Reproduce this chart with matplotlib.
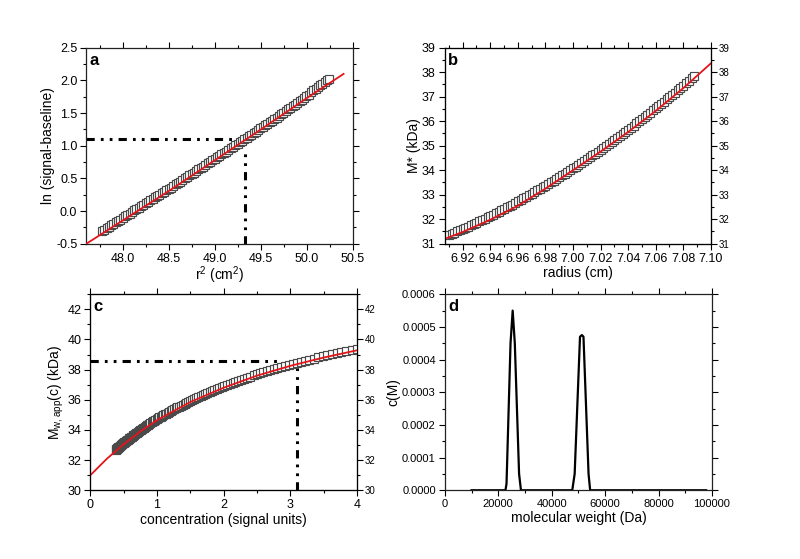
import matplotlib
matplotlib.use('Agg')
import matplotlib.pyplot as plt
from matplotlib.ticker import MultipleLocator, FormatStrFormatter

plt.rcParams['font.family'] = ['Liberation Sans', 'DejaVu Sans']
plt.rcParams['mathtext.default'] = 'regular'
plt.rcParams['axes.unicode_minus'] = False

# --- panel a: ln(signal - baseline) vs r^2
a_r2 = [47.770, 47.795, 47.820, 47.845, 47.870, 47.895, 47.920, 47.945, 47.970, 47.995,
        48.020, 48.045, 48.070, 48.095, 48.120, 48.145, 48.170, 48.195, 48.220, 48.245,
        48.270, 48.295, 48.320, 48.345, 48.370, 48.395, 48.420, 48.445, 48.470, 48.495,
        48.520, 48.545, 48.570, 48.595, 48.620, 48.645, 48.670, 48.695, 48.720, 48.745,
        48.770, 48.795, 48.820, 48.845, 48.870, 48.895, 48.920, 48.945, 48.970, 48.995,
        49.020, 49.045, 49.070, 49.095, 49.120, 49.145, 49.170, 49.195, 49.220, 49.245,
        49.270, 49.295, 49.320, 49.345, 49.370, 49.395, 49.420, 49.445, 49.470, 49.495,
        49.520, 49.545, 49.570, 49.595, 49.620, 49.645, 49.670, 49.695, 49.720, 49.745,
        49.770, 49.795, 49.820, 49.845, 49.870, 49.895, 49.920, 49.945, 49.970, 49.995,
        50.020, 50.045, 50.070, 50.095, 50.120, 50.145, 50.170, 50.195, 50.220, 50.245]
a_ln = [-0.310, -0.285, -0.260, -0.240, -0.220, -0.195, -0.170, -0.150, -0.130, -0.105,
        -0.080, -0.060, -0.040, -0.015, 0.010, 0.030, 0.050, 0.075, 0.100, 0.120,
        0.140, 0.165, 0.190, 0.210, 0.230, 0.250, 0.270, 0.295, 0.320, 0.340,
        0.360, 0.385, 0.410, 0.430, 0.450, 0.475, 0.500, 0.525, 0.550, 0.570,
        0.590, 0.615, 0.640, 0.660, 0.680, 0.705, 0.730, 0.755, 0.780, 0.800,
        0.820, 0.845, 0.870, 0.890, 0.910, 0.935, 0.960, 0.985, 1.010, 1.030,
        1.050, 1.075, 1.100, 1.125, 1.150, 1.170, 1.190, 1.215, 1.240, 1.265,
        1.290, 1.315, 1.340, 1.360, 1.380, 1.405, 1.430, 1.455, 1.480, 1.505,
        1.530, 1.555, 1.580, 1.605, 1.630, 1.655, 1.680, 1.705, 1.730, 1.755,
        1.780, 1.815, 1.850, 1.875, 1.900, 1.925, 1.950, 1.975, 2.000, 2.025]
a_fit_x = [47.6, 48.0, 48.5, 49.0, 49.5, 50.0, 50.4]
a_fit_y = [-0.50, -0.14, 0.31, 0.78, 1.25, 1.73, 2.10]
a_guide_x, a_guide_y = 49.33, 1.10

# --- panel b: M* vs radius
b_r = [6.910, 6.912, 6.914, 6.916, 6.918, 6.920, 6.922, 6.924, 6.926, 6.928,
       6.930, 6.932, 6.934, 6.936, 6.938, 6.940, 6.942, 6.944, 6.946, 6.948,
       6.950, 6.952, 6.954, 6.956, 6.958, 6.960, 6.962, 6.964, 6.966, 6.968,
       6.970, 6.972, 6.974, 6.976, 6.978, 6.980, 6.982, 6.984, 6.986, 6.988,
       6.990, 6.992, 6.994, 6.996, 6.998, 7.000, 7.002, 7.004, 7.006, 7.008,
       7.010, 7.012, 7.014, 7.016, 7.018, 7.020, 7.022, 7.024, 7.026, 7.028,
       7.030, 7.032, 7.034, 7.036, 7.038, 7.040, 7.042, 7.044, 7.046, 7.048,
       7.050, 7.052, 7.054, 7.056, 7.058, 7.060, 7.062, 7.064, 7.066, 7.068,
       7.070, 7.072, 7.074, 7.076, 7.078, 7.080, 7.082, 7.084, 7.086, 7.088]
b_m = [31.35, 31.40, 31.45, 31.50, 31.55, 31.60, 31.65, 31.70, 31.75, 31.80,
       31.86, 31.91, 31.97, 32.02, 32.08, 32.13, 32.19, 32.25, 32.31, 32.36,
       32.42, 32.48, 32.54, 32.60, 32.67, 32.73, 32.79, 32.85, 32.92, 32.98,
       33.05, 33.11, 33.18, 33.24, 33.31, 33.37, 33.44, 33.51, 33.58, 33.65,
       33.72, 33.79, 33.86, 33.93, 34.01, 34.08, 34.15, 34.22, 34.30, 34.37,
       34.45, 34.53, 34.61, 34.68, 34.76, 34.84, 34.92, 35.00, 35.08, 35.16,
       35.24, 35.32, 35.41, 35.49, 35.57, 35.65, 35.74, 35.82, 35.91, 36.00,
       36.09, 36.17, 36.26, 36.35, 36.44, 36.53, 36.62, 36.71, 36.80, 36.89,
       36.99, 37.08, 37.17, 37.26, 37.36, 37.45, 37.55, 37.65, 37.75, 37.85]
b_fit_x = [6.907, 6.92, 6.94, 6.96, 6.98, 7.00, 7.02, 7.04, 7.06, 7.08, 7.10]
b_fit_y = [31.20, 31.48, 31.98, 32.55, 33.25, 34.00, 34.76, 35.56, 36.42, 37.35, 38.36]

# --- panel c: Mw,app vs concentration
c_conc = [0.380, 0.387, 0.395, 0.403, 0.411, 0.419, 0.427, 0.436, 0.445, 0.453,
          0.462, 0.471, 0.481, 0.490, 0.500, 0.510, 0.520, 0.530, 0.541, 0.551,
          0.562, 0.573, 0.585, 0.596, 0.608, 0.620, 0.633, 0.645, 0.658, 0.671,
          0.684, 0.698, 0.712, 0.726, 0.740, 0.755, 0.770, 0.785, 0.801, 0.817,
          0.833, 0.849, 0.866, 0.883, 0.901, 0.919, 0.937, 0.955, 0.974, 0.993,
          1.013, 1.033, 1.054, 1.075, 1.096, 1.118, 1.140, 1.162, 1.185, 1.208,
          1.232, 1.257, 1.282, 1.307, 1.333, 1.359, 1.386, 1.414, 1.442, 1.471,
          1.500, 1.529, 1.559, 1.590, 1.622, 1.654, 1.687, 1.720, 1.754, 1.789,
          1.824, 1.860, 1.897, 1.935, 1.973, 2.012, 2.052, 2.093, 2.134, 2.177,
          2.220, 2.264, 2.308, 2.354, 2.401, 2.449, 2.497, 2.547, 2.597, 2.649,
          2.701, 2.755, 2.809, 2.865, 2.921, 2.979, 3.038, 3.098, 3.159, 3.222,
          3.286, 3.351, 3.417, 3.485, 3.554, 3.625, 3.696, 3.770, 3.844, 3.921, 3.998]
c_mw = [32.69, 32.72, 32.75, 32.78, 32.81, 32.84, 32.87, 32.90, 32.94, 32.97,
        33.01, 33.04, 33.08, 33.11, 33.15, 33.18, 33.22, 33.25, 33.29, 33.32,
        33.36, 33.40, 33.44, 33.48, 33.52, 33.56, 33.60, 33.64, 33.69, 33.73,
        33.78, 33.82, 33.87, 33.92, 33.97, 34.01, 34.06, 34.10, 34.15, 34.20,
        34.25, 34.30, 34.35, 34.40, 34.45, 34.50, 34.56, 34.61, 34.67, 34.72,
        34.78, 34.83, 34.88, 34.93, 34.98, 35.03, 35.09, 35.14, 35.19, 35.25,
        35.31, 35.37, 35.43, 35.49, 35.55, 35.61, 35.68, 35.74, 35.81, 35.88,
        35.95, 36.00, 36.06, 36.12, 36.18, 36.24, 36.31, 36.37, 36.43, 36.50,
        36.57, 36.63, 36.70, 36.77, 36.85, 36.91, 36.98, 37.04, 37.11, 37.18,
        37.25, 37.32, 37.39, 37.46, 37.54, 37.62, 37.70, 37.76, 37.83, 37.89,
        37.96, 38.03, 38.10, 38.17, 38.25, 38.32, 38.39, 38.45, 38.52, 38.59,
        38.66, 38.73, 38.81, 38.88, 38.95, 39.02, 39.09, 39.16, 39.23, 39.30, 39.38]
c_fit_x = [0.0, 0.25, 0.5, 0.75, 1.0, 1.5, 2.0, 2.5, 3.0, 3.5, 4.0]
c_fit_y = [31.0, 32.1, 33.05, 33.9, 34.65, 35.85, 36.8, 37.6, 38.25, 38.8, 39.28]
c_guide_x, c_guide_y = 3.10, 38.6

# --- panel d: c(M) distribution
d_mw = [10000, 22700, 23100, 24600, 25400, 26200, 27800, 28500,
        47700, 48600, 50600, 51300, 51900, 53800, 54400, 97800]
d_c = [0.0, 0.0, 0.00002, 0.00045, 0.00055, 0.00045, 0.00005, 0.0,
       0.0, 0.00005, 0.00047, 0.000475, 0.00047, 0.00005, 0.0, 0.0]

sq = dict(marker='s', ls='none', ms=5.2, mfc='white', mec='#4a4a4a', mew=0.85)
red = dict(color='#e3151b', lw=1.3)
guide = dict(color='black', lw=2.2, dashes=(2.7, 2.0, 0.9, 2.0, 0.9, 2.0))

fig = plt.figure(figsize=(8, 5.59), dpi=100)
ax_a = fig.add_axes([0.108, 0.564, 0.333, 0.3506])
ax_b = fig.add_axes([0.556, 0.564, 0.3325, 0.3506])
ax_c = fig.add_axes([0.113, 0.123, 0.333, 0.3506])
ax_d = fig.add_axes([0.556, 0.123, 0.334, 0.3506])


def style(ax, letter):
    ax.tick_params(which='both', direction='out', top=True, right=True,
                   labelsize=9, width=0.8, pad=2.5)
    ax.tick_params(which='major', length=4)
    ax.tick_params(which='minor', length=2.5)
    for s in ax.spines.values():
        s.set_linewidth(0.9)
        s.set_color('#222222')
    ax.text(0.012, 0.975, letter, transform=ax.transAxes, ha='left', va='top',
            fontsize=12, fontweight='bold')


def right_labels(ax, major, minor):
    tw = ax.twinx()
    tw.set_ylim(ax.get_ylim())
    tw.yaxis.set_major_locator(MultipleLocator(major))
    tw.yaxis.set_minor_locator(MultipleLocator(minor))
    tw.tick_params(which='both', direction='out', labelsize=7, width=0.8, pad=1.5)
    tw.tick_params(which='major', length=4)
    tw.tick_params(which='minor', length=2.5)
    ax.tick_params(which='both', right=False)


# a
ax_a.plot(a_r2, a_ln, **sq, zorder=3)
ax_a.plot(a_fit_x, a_fit_y, **red, zorder=4)
ax_a.plot([47.6, a_guide_x], [a_guide_y, a_guide_y], **guide, zorder=2)
ax_a.plot([a_guide_x, a_guide_x], [-0.5, 0.95], **guide, zorder=2)
ax_a.set_xlim(47.6, 50.5)
ax_a.set_ylim(-0.5, 2.5)
ax_a.xaxis.set_major_locator(MultipleLocator(0.5))
ax_a.xaxis.set_minor_locator(MultipleLocator(0.25))
ax_a.yaxis.set_major_locator(MultipleLocator(0.5))
ax_a.yaxis.set_minor_locator(MultipleLocator(0.25))
ax_a.set_xlabel('r$^2$ (cm$^2$)', fontsize=10, labelpad=0)
ax_a.set_ylabel('ln (signal-baseline)', fontsize=10, labelpad=1)
style(ax_a, 'a')

# b
ax_b.plot(b_r, b_m, **sq, zorder=3)
ax_b.plot(b_fit_x, b_fit_y, **red, zorder=4)
ax_b.set_xlim(6.907, 7.10)
ax_b.set_ylim(31, 39)
ax_b.xaxis.set_major_locator(MultipleLocator(0.02))
ax_b.xaxis.set_minor_locator(MultipleLocator(0.01))
ax_b.yaxis.set_major_locator(MultipleLocator(1))
ax_b.yaxis.set_minor_locator(MultipleLocator(0.5))
ax_b.set_xlabel('radius (cm)', fontsize=10, labelpad=1)
ax_b.set_ylabel('M* (kDa)', fontsize=10, labelpad=1)
style(ax_b, 'b')
right_labels(ax_b, 1, 0.5)

# c
ax_c.plot(c_conc, c_mw, **sq, zorder=3)
ax_c.plot(c_fit_x, c_fit_y, **red, zorder=4)
ax_c.plot([0, 2.85], [c_guide_y, c_guide_y], **guide, zorder=2)
ax_c.plot([c_guide_x, c_guide_x], [30, 38.2], **guide, zorder=2)
ax_c.set_xlim(0, 4)
ax_c.set_ylim(30, 43)
ax_c.xaxis.set_major_locator(MultipleLocator(1))
ax_c.xaxis.set_minor_locator(MultipleLocator(0.5))
ax_c.yaxis.set_major_locator(MultipleLocator(2))
ax_c.yaxis.set_minor_locator(MultipleLocator(1))
ax_c.set_xlabel('concentration (signal units)', fontsize=10, labelpad=1)
ax_c.set_ylabel('M$_{w,app}$(c) (kDa)', fontsize=10, labelpad=1)
style(ax_c, 'c')
right_labels(ax_c, 2, 1)

# d
ax_d.plot(d_mw, d_c, color='black', lw=1.6)
ax_d.set_xlim(0, 100000)
ax_d.set_ylim(0, 0.0006)
ax_d.xaxis.set_major_locator(MultipleLocator(20000))
ax_d.xaxis.set_minor_locator(MultipleLocator(10000))
ax_d.yaxis.set_major_locator(MultipleLocator(0.0001))
ax_d.yaxis.set_minor_locator(MultipleLocator(0.00005))
ax_d.yaxis.set_major_formatter(FormatStrFormatter('%.4f'))
ax_d.set_xlabel('molecular weight (Da)', fontsize=10, labelpad=1)
ax_d.set_ylabel('c(M)', fontsize=10, labelpad=1)
style(ax_d, 'd')
ax_d.tick_params(labelsize=8)

fig.savefig('out.png', dpi=100)
